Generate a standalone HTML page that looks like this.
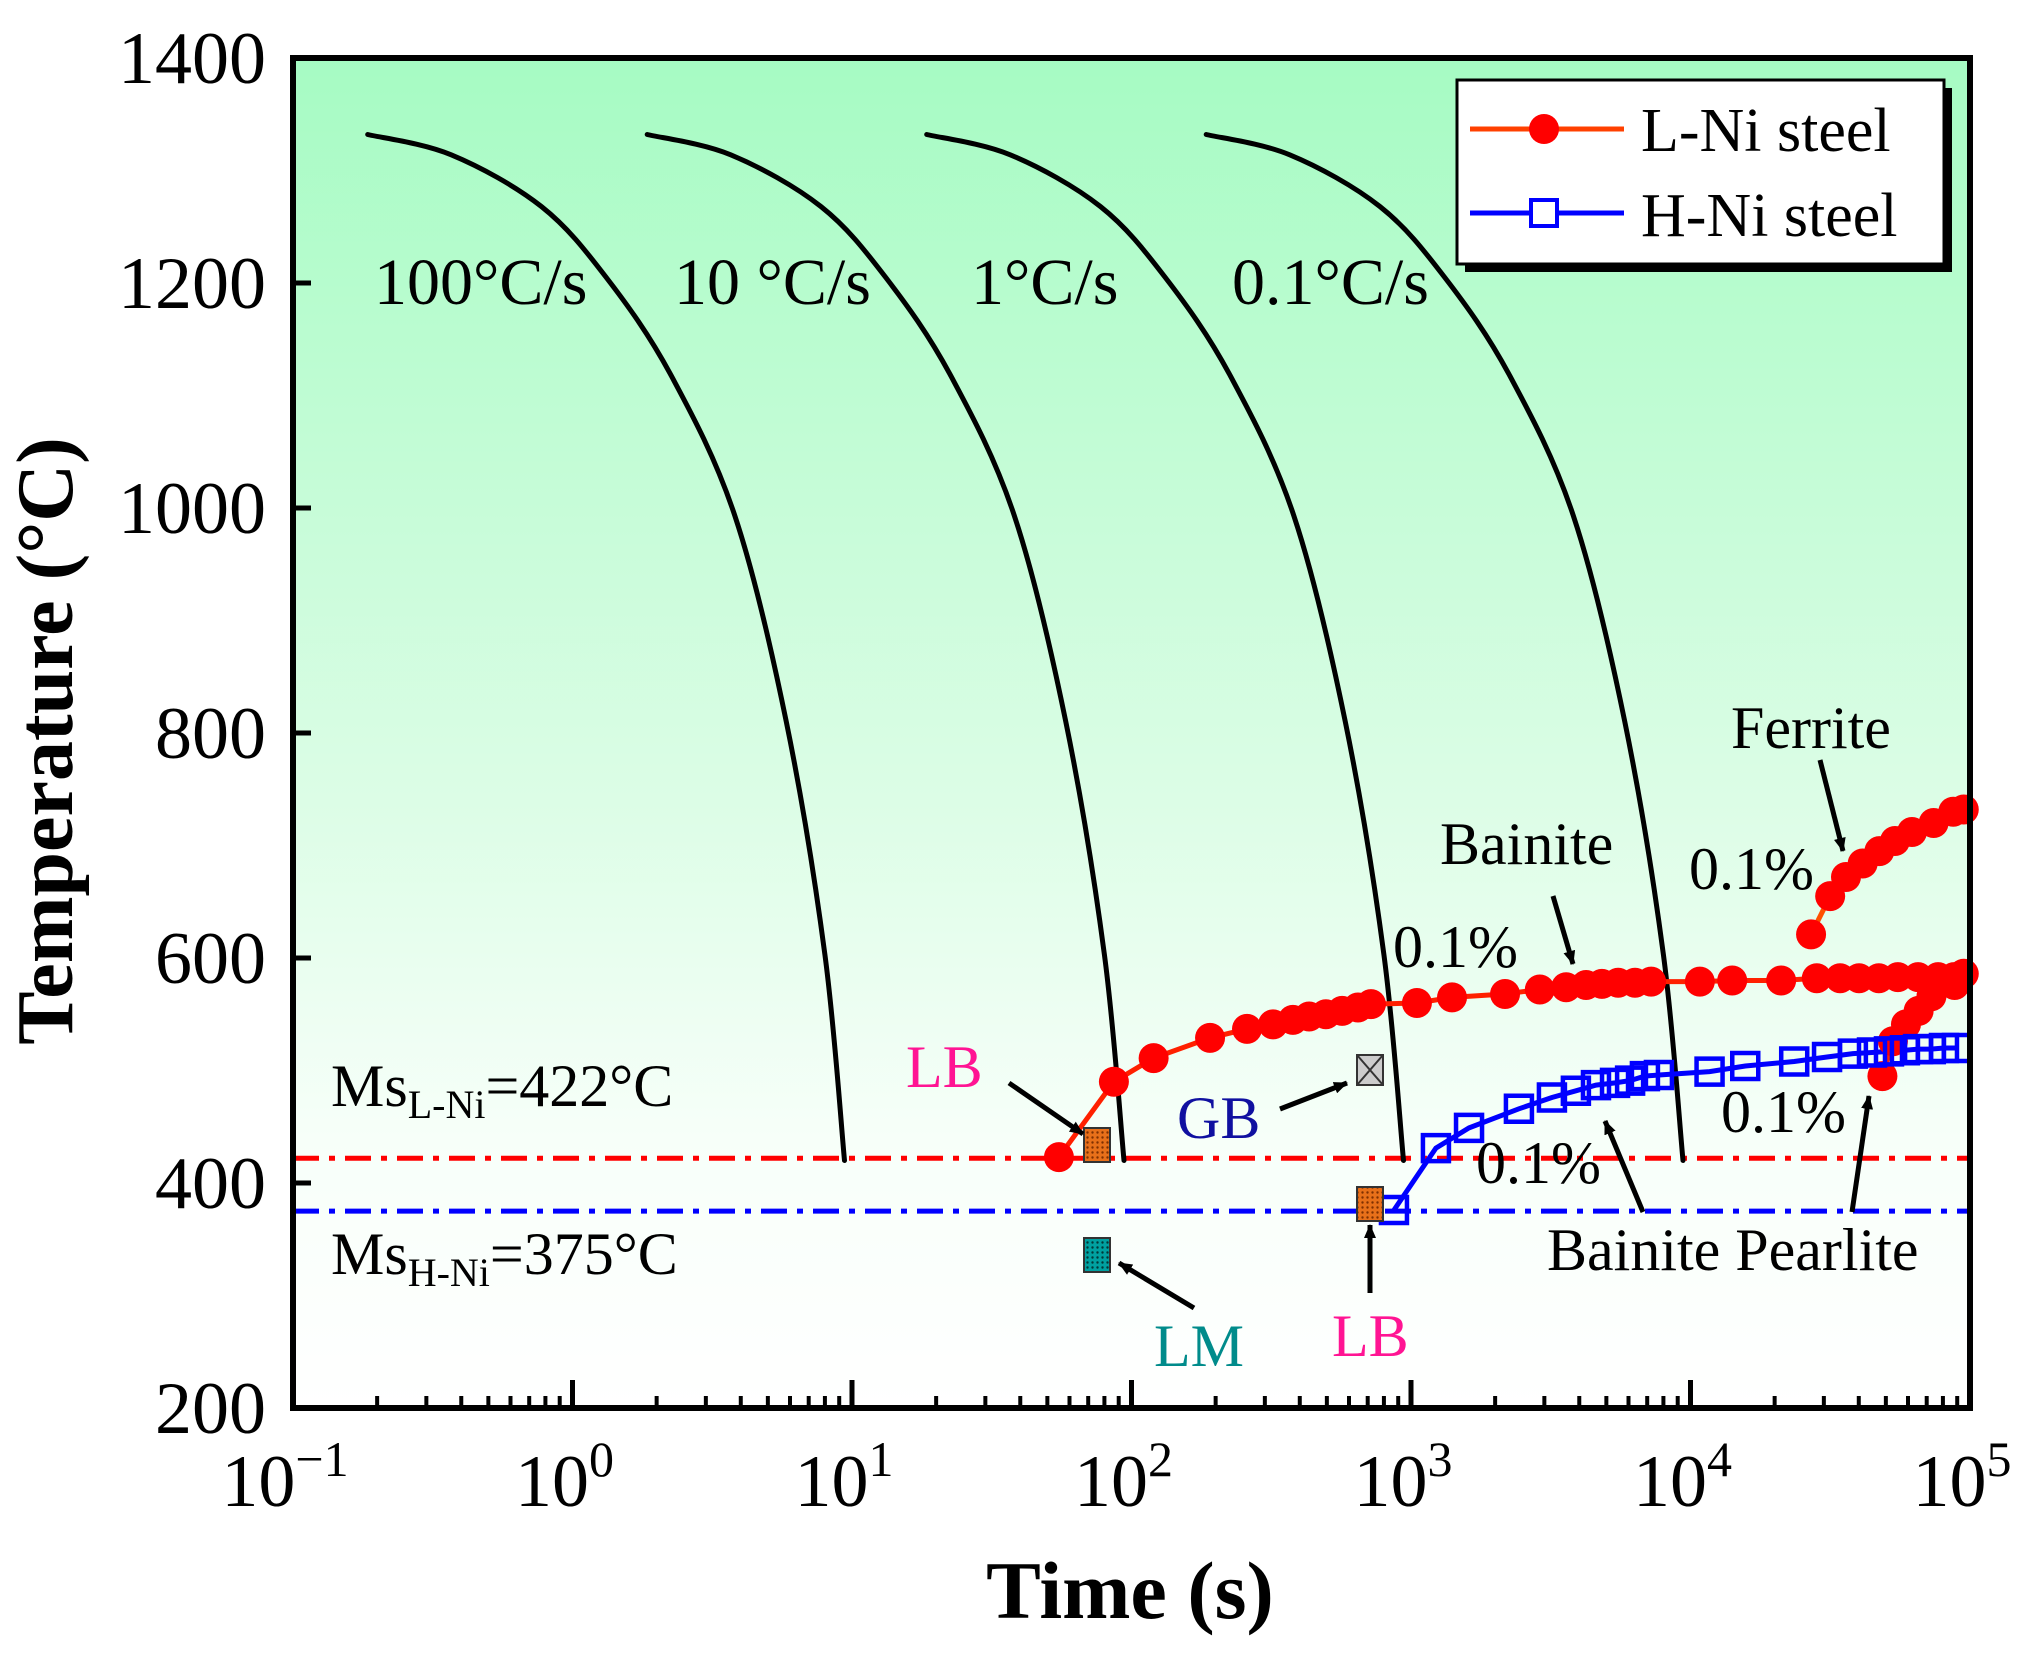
<!DOCTYPE html>
<html><head><meta charset="utf-8"><style>
html,body{margin:0;padding:0;background:#fff;}
svg{display:block;font-family:"Liberation Serif",serif;}
</style></head><body>
<svg id="chart" width="2021" height="1654" viewBox="0 0 2021 1654" xmlns="http://www.w3.org/2000/svg">
<defs>
<linearGradient id="bg" x1="0" y1="0" x2="0" y2="1">
<stop offset="0" stop-color="#a6fbc3"/><stop offset="0.55" stop-color="#dcfde6"/><stop offset="0.8" stop-color="#f7fff9"/><stop offset="1" stop-color="#ffffff"/>
</linearGradient>
<pattern id="hatchO" width="5" height="5" patternUnits="userSpaceOnUse"><rect width="5" height="5" fill="#e8701a"/><circle cx="2.5" cy="2.5" r="1.2" fill="#803000"/></pattern>
<pattern id="hatchT" width="5" height="5" patternUnits="userSpaceOnUse"><rect width="5" height="5" fill="#00a0a0"/><circle cx="2.5" cy="2.5" r="1.2" fill="#003838"/></pattern>
<marker id="ah" markerWidth="14" markerHeight="12" refX="13" refY="6" orient="auto" markerUnits="userSpaceOnUse"><path d="M0,0 L14,6 L0,12 z" fill="#000"/></marker>
</defs>
<rect x="293" y="58" width="1677" height="1350" fill="url(#bg)"/>
<g id="marks"></g>
<g id="axes"></g>
</svg>
<script>
const xTickExps=[-1,0,1,2,3,4,5];
const yTicks=[200,400,600,800,1000,1200,1400];
const coolTimes=[0.185,0.368,0.774,1.32,2.24,3.81,5.82,8.0,9.4];
const coolTemps=[1332,1314,1268,1205,1119,993,810,603,420];
const coolShift=[1,10,100,1000];
const coolLabels=["100°C/s","10 °C/s","1°C/s","0.1°C/s"];
const lniBainiteT=[55,86.5,120,191,259,321,378,432,496,567,646,719,1050,1402,2170,2890,3590,4230,4820,5510,6330,7230,10800,14100,21100,28300,34300,40100,47200,55200,65200,76900,87700];
const lniBainiteV=[423,490,511,529,537,541,545,548,550,553,556,559,560,565,568,572,574,576,577,578,578,579,579,580,580,582,582,582,582,583,583,583,583];
const lniPearliteT=[48600,53000,59000,65500,72800,88100,95000];
const lniPearliteV=[495,526,541,553,566,576,586];
const lniFerriteT=[27000,31600,36000,41300,47400,53900,62000,74100,87100,95000];
const lniFerriteV=[621,655,672,684,695,704,712,720,730,732];
const hniT=[869,1228,1613,2433,3193,3890,4590,5370,6080,6870,7710,11700,15700,23500,30800,38100,44600,51300,58500,65200,72400,80700,89800];
const hniV=[376,431,449,466,476,482,487,489,491,495,496,499,504,508,512,515,516,517,518,519,519,520,520];
const msValues=[422,375];
const X0=293,X1=1970,Y0=58,Y1=1408;
function xs(t){return X0+(Math.log10(t)+1)/6*(X1-X0);}
function ys(v){return Y1-(v-200)/1200*(Y1-Y0);}
const NS="http://www.w3.org/2000/svg";
const marks=document.getElementById('marks'), axes=document.getElementById('axes');
function mk(tag,attrs,parent){const e=document.createElementNS(NS,tag);for(const k in attrs)e.setAttribute(k,attrs[k]);(parent||marks).appendChild(e);return e;}
function smooth(pts){
  let d='M'+pts[0][0].toFixed(1)+','+pts[0][1].toFixed(1);
  for(let i=0;i<pts.length-1;i++){
    const p0=pts[Math.max(0,i-1)],p1=pts[i],p2=pts[i+1],p3=pts[Math.min(pts.length-1,i+2)];
    const c1=[p1[0]+(p2[0]-p0[0])/6,p1[1]+(p2[1]-p0[1])/6];
    const c2=[p2[0]-(p3[0]-p1[0])/6,p2[1]-(p3[1]-p1[1])/6];
    d+=' C'+c1[0].toFixed(1)+','+c1[1].toFixed(1)+' '+c2[0].toFixed(1)+','+c2[1].toFixed(1)+' '+p2[0].toFixed(1)+','+p2[1].toFixed(1);
  }
  return d;
}
const msCol=['#ff0000','#0000ff'];
msValues.forEach((v,i)=>{
  const l=mk('line',{x1:X0,x2:X1,y1:ys(v),y2:ys(v),stroke:msCol[i],'stroke-width':5,'stroke-dasharray':'26 10 6 10'});
  
  
});
coolShift.forEach((s,i)=>{
  const pts=coolTimes.map((t,j)=>[xs(t*s),ys(coolTemps[j])]);
  const p=mk('path',{d:smooth(pts),fill:'none',stroke:'#000','stroke-width':5,'stroke-linecap':'round'});
  
  
});
const labX=[374,674,971,1232];
coolLabels.forEach((s,i)=>{
  const t=mk('text',{x:labX[i],y:304,'font-size':66,fill:'#000'});t.textContent=s;
  
  
});
function series(T,V,name,lineCol,w){
  const d=T.map((t,j)=>(j?'L':'M')+xs(t).toFixed(1)+','+ys(V[j]).toFixed(1)).join(' ');
  const p=mk('path',{d:d,fill:'none',stroke:lineCol,'stroke-width':w});
  
  
}
series(lniBainiteT,lniBainiteV,'l-ni-bainite','#ff2000',5);
series(lniPearliteT,lniPearliteV,'l-ni-pearlite','#ff2000',5);
series(lniFerriteT,lniFerriteV,'l-ni-ferrite','#ff5000',5);
series(hniT,hniV,'h-ni','#0000ff',5);
[[lniBainiteT,lniBainiteV],[lniPearliteT,lniPearliteV],[lniFerriteT,lniFerriteV]].forEach(([T,V])=>{
  T.forEach((t,j)=>{const c=mk('circle',{cx:xs(t),cy:ys(V[j]),r:15,fill:'#ff0000'});
  
  });
});
hniT.forEach((t,j)=>{const r=mk('rect',{x:xs(t)-13,y:ys(hniV[j])-13,width:26,height:26,fill:'none',stroke:'#0000ff','stroke-width':4.5});
  
  });
const fr=mk('rect',{x:X0,y:Y0,width:X1-X0,height:Y1-Y0,fill:'none',stroke:'#000','stroke-width':6},axes);


yTicks.forEach(v=>{
  mk('line',{x1:X0,x2:X0+18,y1:ys(v),y2:ys(v),stroke:'#000','stroke-width':5},axes);
  const t=mk('text',{x:266,y:ys(v)+25,'font-size':74,'text-anchor':'end'},axes);t.textContent=v;
  
  
});
xTickExps.forEach((e,i)=>{
  const x=xs(Math.pow(10,e));
  mk('line',{x1:x,x2:x,y1:Y1,y2:Y1-28,stroke:'#000','stroke-width':5},axes);
  if(i<xTickExps.length-1){for(let k=2;k<10;k++){const xm=xs(k*Math.pow(10,e));mk('line',{x1:xm,x2:xm,y1:Y1,y2:Y1-12,stroke:'#000','stroke-width':4},axes);}}
  const t=mk('text',{x:x-8,y:1506,'font-size':74,'text-anchor':'middle'},axes);
  
  
  const a=document.createElementNS(NS,'tspan');a.textContent='10';t.appendChild(a);
  const b=document.createElementNS(NS,'tspan');b.setAttribute('dy','-30');b.setAttribute('font-size','50');b.textContent=(e<0?'\u2212':'')+Math.abs(e);t.appendChild(b);
});
</script>
<svg style="position:absolute;left:0;top:0" width="2021" height="1654" viewBox="0 0 2021 1654" xmlns="http://www.w3.org/2000/svg" font-family="Liberation Serif, serif">
<text transform="translate(72,741) rotate(-90)" font-size="80" font-weight="bold" text-anchor="middle">Temperature (°C)</text>
<text x="1130" y="1618" font-size="82" font-weight="bold" text-anchor="middle">Time (s)</text>
<text x="331" y="1106" font-size="60">Ms<tspan font-size="40" dy="12">L-Ni</tspan><tspan dy="-12">=422°C</tspan></text>
<text x="331" y="1274" font-size="60">Ms<tspan font-size="40" dy="12">H-Ni</tspan><tspan dy="-12">=375°C</tspan></text>
<rect x="1084" y="1128" width="26" height="34" fill="url(#hatchO)" stroke="#333" stroke-width="2"/>
<rect x="1357" y="1187" width="26" height="34" fill="url(#hatchO)" stroke="#333" stroke-width="2"/>
<rect x="1357" y="1055" width="26" height="30" fill="#ccc" stroke="#333" stroke-width="2"/>
<path d="M1357,1055 L1383,1085 M1383,1055 L1357,1085" stroke="#333" stroke-width="2"/>
<rect x="1084" y="1238" width="26" height="34" fill="url(#hatchT)" stroke="#333" stroke-width="2"/>
<g stroke="#000" stroke-width="5" marker-end="url(#ah)">
<line x1="1009" y1="1083" x2="1083" y2="1134"/>
<line x1="1280" y1="1109" x2="1347" y2="1083"/>
<line x1="1194" y1="1308" x2="1119" y2="1263"/>
<line x1="1370" y1="1293" x2="1370" y2="1225"/>
<line x1="1553" y1="896" x2="1573" y2="964"/>
<line x1="1820" y1="760" x2="1843" y2="851"/>
<line x1="1643" y1="1212" x2="1605" y2="1121"/>
<line x1="1852" y1="1212" x2="1869" y2="1096"/>
</g>
<g font-size="60">
<text x="906" y="1087" fill="#ff1493">LB</text>
<text x="1177" y="1138" fill="#1010a0">GB</text>
<text x="1154" y="1366" fill="#008b8b">LM</text>
<text x="1332" y="1356" fill="#ff1493">LB</text>
<text x="1440" y="864">Bainite</text>
<text x="1731" y="748">Ferrite</text>
<text x="1689" y="889">0.1%</text>
<text x="1393" y="967">0.1%</text>
<text x="1476" y="1183">0.1%</text>
<text x="1721" y="1132">0.1%</text>
<text x="1547" y="1270">Bainite Pearlite</text>
</g>
<g>
<rect x="1465" y="88" width="487" height="184" fill="#000"/>
<rect x="1457" y="80" width="487" height="184" fill="#fff" stroke="#000" stroke-width="3"/>
<line x1="1470" y1="129" x2="1624" y2="129" stroke="#ff4000" stroke-width="5"/>
<circle cx="1544" cy="129" r="15" fill="#ff0000"/>
<text x="1641" y="151" font-size="62">L-Ni steel</text>
<line x1="1470" y1="213" x2="1624" y2="213" stroke="#0000ff" stroke-width="5"/>
<rect x="1531" y="200" width="26" height="26" fill="#fff" stroke="#0000ff" stroke-width="4"/>
<text x="1641" y="236" font-size="62">H-Ni steel</text>
</g>
</svg>
</body></html>
